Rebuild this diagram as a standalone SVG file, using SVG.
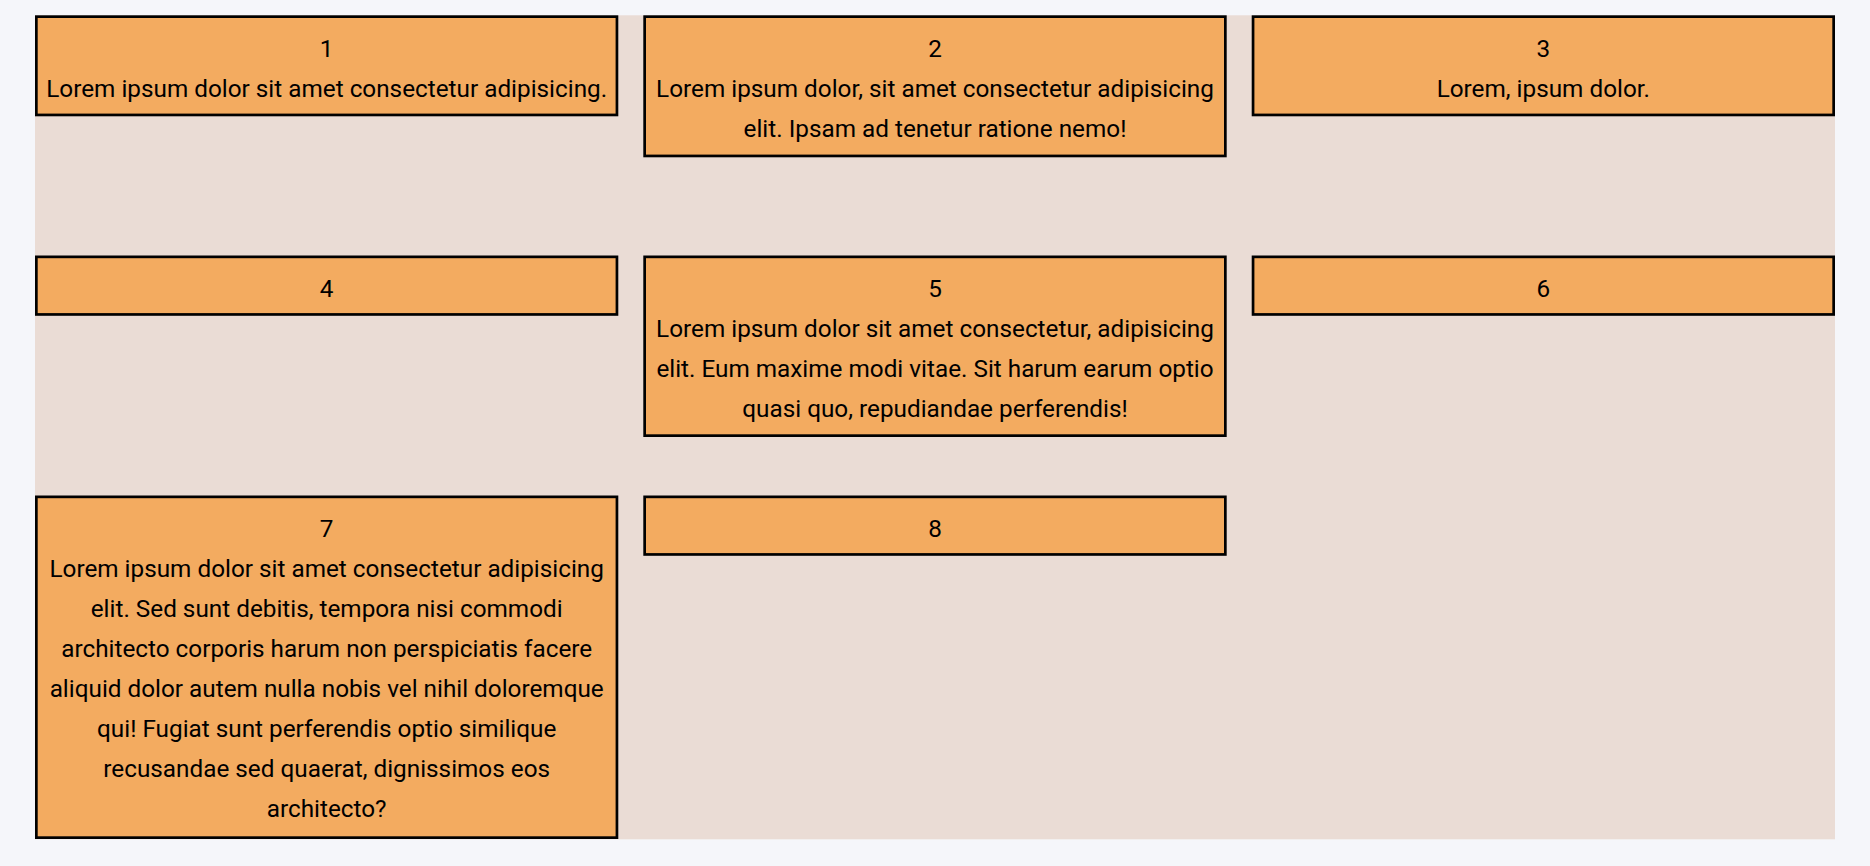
<svg xmlns="http://www.w3.org/2000/svg" width="1870" height="866" viewBox="0 0 1870 866">
<style>
.bg{fill:#f5f6fa}
.wrap{fill:#eadcd5}
.box{fill:#f3ab60;stroke:#000;stroke-width:2.7}
.t{font-family:Roboto,"Liberation Sans",sans-serif;font-size:24.3px;fill:#000;text-anchor:middle}
</style>
<rect class="bg" x="0" y="0" width="1870" height="866"/>
<rect class="wrap" x="35" y="15.3" width="1800" height="824"/>
<g id="node1">
<rect class="box" x="36.35" y="16.65" width="580.6" height="98.3"/>
<text class="t" x="326.7" y="57">1</text>
<text class="t" x="326.7" y="97">Lorem ipsum dolor sit amet consectetur adipisicing.</text>
</g>
<g id="node2">
<rect class="box" x="644.65" y="16.65" width="580.7" height="139.3"/>
<text class="t" x="935" y="57">2</text>
<text class="t" x="935" y="97">Lorem ipsum dolor, sit amet consectetur adipisicing</text>
<text class="t" x="935" y="137">elit. Ipsam ad tenetur ratione nemo!</text>
</g>
<g id="node3">
<rect class="box" x="1253.05" y="16.65" width="580.6" height="98.3"/>
<text class="t" x="1543.3" y="57">3</text>
<text class="t" x="1543.3" y="97">Lorem, ipsum dolor.</text>
</g>
<g id="node4">
<rect class="box" x="36.35" y="256.85" width="580.6" height="57.6"/>
<text class="t" x="326.7" y="297">4</text>
</g>
<g id="node5">
<rect class="box" x="644.65" y="256.85" width="580.7" height="178.8"/>
<text class="t" x="935" y="297">5</text>
<text class="t" x="935" y="337">Lorem ipsum dolor sit amet consectetur, adipisicing</text>
<text class="t" x="935" y="377">elit. Eum maxime modi vitae. Sit harum earum optio</text>
<text class="t" x="935" y="417">quasi quo, repudiandae perferendis!</text>
</g>
<g id="node6">
<rect class="box" x="1253.05" y="256.85" width="580.6" height="57.6"/>
<text class="t" x="1543.3" y="297">6</text>
</g>
<g id="node7">
<rect class="box" x="36.35" y="496.85" width="580.6" height="340.8"/>
<text class="t" x="326.7" y="537">7</text>
<text class="t" x="326.7" y="577">Lorem ipsum dolor sit amet consectetur adipisicing</text>
<text class="t" x="326.7" y="617">elit. Sed sunt debitis, tempora nisi commodi</text>
<text class="t" x="326.7" y="657">architecto corporis harum non perspiciatis facere</text>
<text class="t" x="326.7" y="697">aliquid dolor autem nulla nobis vel nihil doloremque</text>
<text class="t" x="326.7" y="737">qui! Fugiat sunt perferendis optio similique</text>
<text class="t" x="326.7" y="777">recusandae sed quaerat, dignissimos eos</text>
<text class="t" x="326.7" y="817">architecto?</text>
</g>
<g id="node8">
<rect class="box" x="644.65" y="496.85" width="580.7" height="57.6"/>
<text class="t" x="935" y="537">8</text>
</g>
<g id="connectors"></g>
</svg>
